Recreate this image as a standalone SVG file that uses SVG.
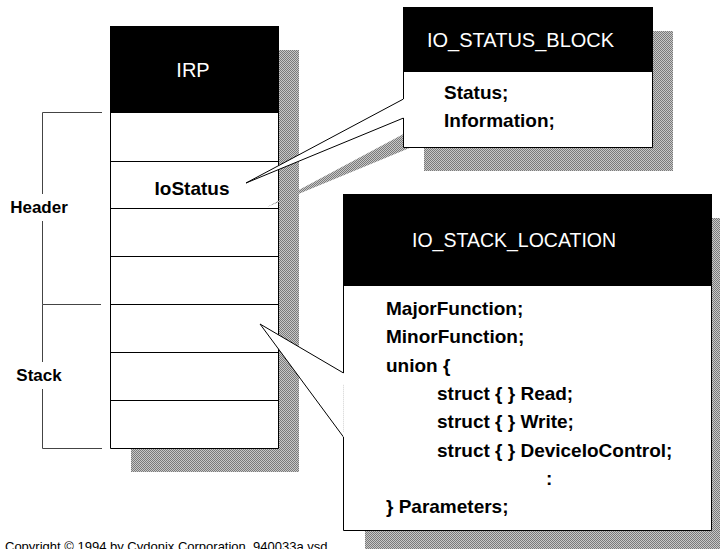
<svg xmlns="http://www.w3.org/2000/svg" width="720" height="549" viewBox="0 0 720 549">
<defs>
<pattern id="dither" width="2" height="2" patternUnits="userSpaceOnUse">
<rect width="2" height="2" fill="#c8c8c8"/>
<rect width="1" height="1" fill="#7a7a7a"/>
<rect x="1" y="1" width="1" height="1" fill="#7a7a7a"/>
</pattern>
</defs>
<style>
.shadow{fill:url(#dither)}
.body{fill:#fff}
.hdr{fill:#000}
.line{fill:none;stroke:#000;stroke-width:1}
.bracket{fill:none;stroke:#444;stroke-width:1}
.title{font-family:"Liberation Sans",Arial,sans-serif;font-size:20px;fill:#fff}
.txt{font-family:"Liberation Sans",Arial,sans-serif;font-size:19px;font-weight:bold;fill:#000}
.lbl{font-family:"Liberation Sans",Arial,sans-serif;font-size:17px;font-weight:bold;fill:#000}
.copy{font-family:"Liberation Sans",Arial,sans-serif;font-size:13px;fill:#000}
</style>
<rect width="720" height="549" fill="#fff"/>
<g id="bracket">
<path class="bracket" d="M102,112.5 H42.5 V194 M42.5,221 V304.5 H101 M42.5,304.5 V362 M42.5,389 V448.5 H102"/>
<g id="header-label"><text class="lbl" x="39" y="213" text-anchor="middle">Header</text></g>
<g id="stack-label"><text class="lbl" x="39" y="381" text-anchor="middle">Stack</text></g>
</g>
<g id="irp">
<rect class="shadow" x="131" y="50" width="168" height="422"/>
<rect class="body" x="110.5" y="26.5" width="168" height="422"/>
<rect class="hdr" x="110" y="26" width="169" height="87"/>
<path class="line" d="M110.5,113 V448.5 H278.5 V113 M110.5,161.5 H278.5 M110.5,208.5 H278.5 M110.5,256.5 H278.5 M110.5,304.5 H278.5 M110.5,352.5 H278.5 M110.5,400.5 H278.5"/>
<text class="title" x="193" y="77" text-anchor="middle">IRP</text>
<text class="txt" x="192" y="195" text-anchor="middle">IoStatus</text>
</g>
<g id="connectors">
<polygon class="shadow" points="267,207 424,123 424,142"/>
<polygon class="shadow" points="281,348 365,397 365,461"/>
<polygon fill="#fff" points="246,183 403.5,99 403.5,118"/>
<polyline class="line" points="403.5,99 246,183 403.5,118"/>
<polygon fill="#fff" points="260,324 343.5,373 343.5,437"/>
<polyline class="line" points="343.5,373 260,324 343.5,437"/>
</g>
<g id="io-status-block">
<rect class="shadow" x="424" y="31" width="249" height="140"/>
<rect class="body" x="403.5" y="7.5" width="249" height="140"/>
<rect class="hdr" x="403" y="7" width="250" height="65"/>
<path class="line" d="M403.5,99 V7.5 H652.5 V147.5 H403.5 V118"/>
<text class="title" x="427" y="47">IO_STATUS_BLOCK</text>
<text class="txt" x="444" y="98.5">Status;</text>
<text class="txt" x="444" y="127">Information;</text>
</g>
<g id="io-stack-location">
<rect class="shadow" x="365" y="218" width="368" height="336"/>
<rect class="body" x="343.5" y="194.5" width="368" height="336"/>
<rect class="hdr" x="343" y="194" width="369" height="92"/>
<path class="line" d="M343.5,373 V194.5 H711.5 V530.5 H343.5 V437"/>
<text class="title" x="412" y="247" style="font-size:19.5px">IO_STACK_LOCATION</text>
<text class="txt" x="386" y="315">MajorFunction;</text>
<text class="txt" x="386" y="343.3">MinorFunction;</text>
<text class="txt" x="386" y="371.6">union {</text>
<text class="txt" x="437" y="399.9">struct { } Read;</text>
<text class="txt" x="437" y="428.2">struct { } Write;</text>
<text class="txt" x="437" y="456.5">struct { } DeviceIoControl;</text>
<text class="txt" x="546" y="484.8">:</text>
<text class="txt" x="386" y="513">} Parameters;</text>
</g>
<g id="copyright"><text class="copy" x="5" y="551">Copyright © 1994 by Cydonix Corporation. 940033a.vsd</text></g>
</svg>
